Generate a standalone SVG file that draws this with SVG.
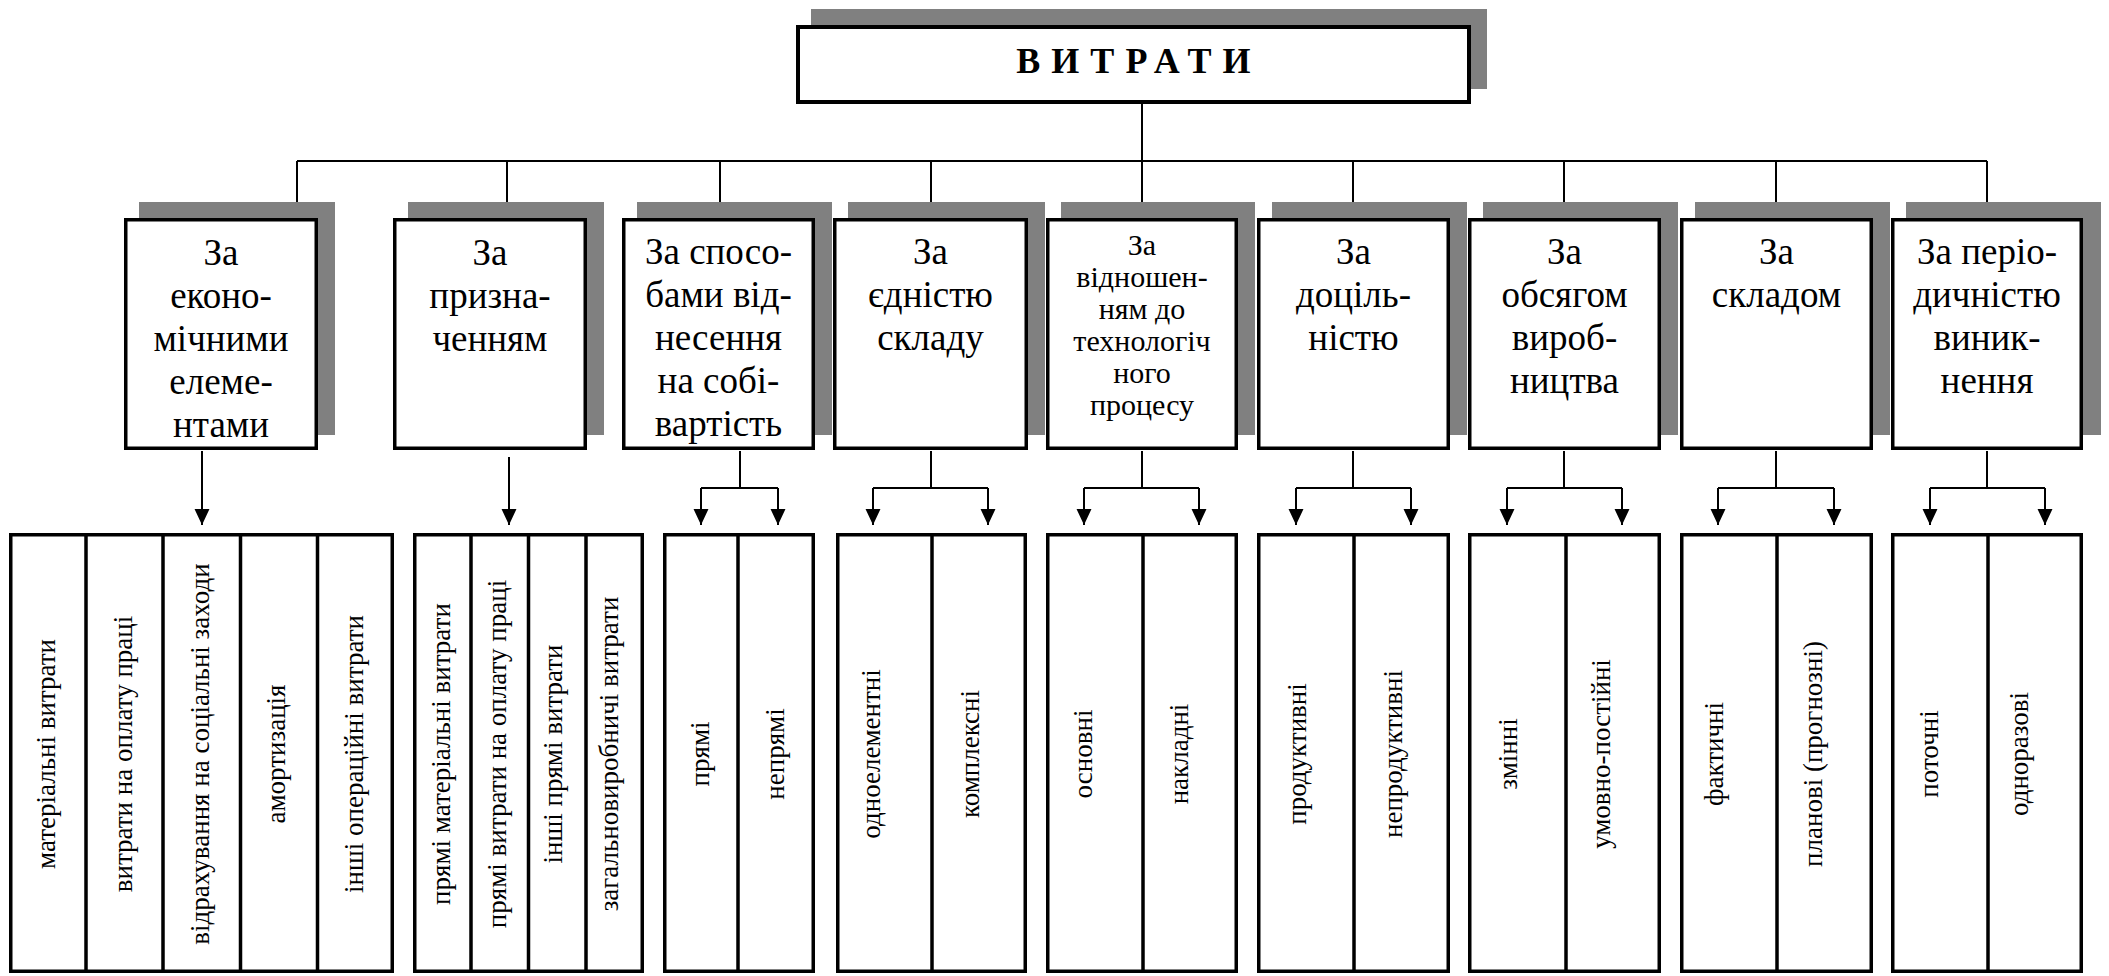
<svg xmlns="http://www.w3.org/2000/svg" width="2109" height="976" viewBox="0 0 2109 976">
<style>
.sh{fill:#808080;stroke:none}
.bx{fill:#fff;stroke:#000;stroke-width:3.5}
.tb{fill:#fff;stroke:#000;stroke-width:4}
.dv{stroke:#000;stroke-width:3.5}
.cn{fill:none;stroke:#000;stroke-width:2}
text{font-family:'Liberation Serif','Times New Roman',serif;fill:#000;text-anchor:middle}
.t2{font-size:37px}
.t2s{font-size:30px}
.t3{font-size:27px}
.tt{font-size:36px;font-weight:bold;letter-spacing:11px}
</style>
<defs>
<marker id="ar" markerUnits="userSpaceOnUse" markerWidth="16" markerHeight="16" viewBox="0 0 15 14" refX="15" refY="7" orient="auto">
<path d="M0,0 L15,7 L0,14 z" fill="#000"/>
</marker>
</defs>
<rect width="2109" height="976" fill="#fff"/>

<g id="connectors">
<path class="cn" d="M1142,104 V161 M297,161 H1987"/>
<path class="cn" marker-end="url(#ar)" d="M297,161 V218"/>
<path class="cn" marker-end="url(#ar)" d="M507,161 V218"/>
<path class="cn" marker-end="url(#ar)" d="M720,161 V218"/>
<path class="cn" marker-end="url(#ar)" d="M931,161 V218"/>
<path class="cn" marker-end="url(#ar)" d="M1142,161 V218"/>
<path class="cn" marker-end="url(#ar)" d="M1353,161 V218"/>
<path class="cn" marker-end="url(#ar)" d="M1564,161 V218"/>
<path class="cn" marker-end="url(#ar)" d="M1776,161 V218"/>
<path class="cn" marker-end="url(#ar)" d="M1987,161 V218"/>
<path class="cn" marker-end="url(#ar)" d="M202,451 V525"/>
<path class="cn" marker-end="url(#ar)" d="M509,457 V525"/>
<path class="cn" d="M740,451 V488 M701,488 H778 M931,451 V488 M873,488 H988 M1142,451 V488 M1084,488 H1199 M1353,451 V488 M1296,488 H1411 M1564,451 V488 M1507,488 H1622 M1776,451 V488 M1718,488 H1834 M1987,451 V488 M1930,488 H2045"/>
<path class="cn" marker-end="url(#ar)" d="M701,488 V525"/>
<path class="cn" marker-end="url(#ar)" d="M778,488 V525"/>
<path class="cn" marker-end="url(#ar)" d="M873,488 V525"/>
<path class="cn" marker-end="url(#ar)" d="M988,488 V525"/>
<path class="cn" marker-end="url(#ar)" d="M1084,488 V525"/>
<path class="cn" marker-end="url(#ar)" d="M1199,488 V525"/>
<path class="cn" marker-end="url(#ar)" d="M1296,488 V525"/>
<path class="cn" marker-end="url(#ar)" d="M1411,488 V525"/>
<path class="cn" marker-end="url(#ar)" d="M1507,488 V525"/>
<path class="cn" marker-end="url(#ar)" d="M1622,488 V525"/>
<path class="cn" marker-end="url(#ar)" d="M1718,488 V525"/>
<path class="cn" marker-end="url(#ar)" d="M1834,488 V525"/>
<path class="cn" marker-end="url(#ar)" d="M1930,488 V525"/>
<path class="cn" marker-end="url(#ar)" d="M2045,488 V525"/>
</g>

<g id="root">
<rect class="sh" x="811" y="9" width="676" height="80"/>
<rect class="tb" x="798" y="27" width="671" height="75"/>
<text class="tt" x="1139" y="73">ВИТРАТИ</text>
</g>

<g id="n1">
<rect class="sh" x="139" y="202" width="196" height="233"/>
<rect class="bx" x="125.75" y="219.75" width="190.5" height="228.5"/>
<text class="t2"><tspan x="221" y="265">За</tspan><tspan x="221" y="308">еконо-</tspan><tspan x="221" y="351">мічними</tspan><tspan x="221" y="394">елеме-</tspan><tspan x="221" y="437">нтами</tspan></text>
</g>
<g id="n2">
<rect class="sh" x="408" y="202" width="196" height="233"/>
<rect class="bx" x="394.75" y="219.75" width="190.5" height="228.5"/>
<text class="t2"><tspan x="490" y="265">За</tspan><tspan x="490" y="308">призна-</tspan><tspan x="490" y="351">ченням</tspan></text>
</g>
<g id="n3">
<rect class="sh" x="637" y="202" width="195" height="233"/>
<rect class="bx" x="623.75" y="219.75" width="189.5" height="228.5"/>
<text class="t2"><tspan x="718.5" y="264">За спосо-</tspan><tspan x="718.5" y="307">бами від-</tspan><tspan x="718.5" y="350">несення</tspan><tspan x="718.5" y="393">на собі-</tspan><tspan x="718.5" y="436">вартість</tspan></text>
</g>
<g id="n4">
<rect class="sh" x="848" y="202" width="197" height="233"/>
<rect class="bx" x="834.75" y="219.75" width="191.5" height="228.5"/>
<text class="t2"><tspan x="930.5" y="264">За</tspan><tspan x="930.5" y="307">єдністю</tspan><tspan x="930.5" y="350">складу</tspan></text>
</g>
<g id="n5">
<rect class="sh" x="1061" y="202" width="194" height="233"/>
<rect class="bx" x="1047.75" y="219.75" width="188.5" height="228.5"/>
<text class="t2s"><tspan x="1142" y="255">За</tspan><tspan x="1142" y="287">відношен-</tspan><tspan x="1142" y="319">ням до</tspan><tspan x="1142" y="351">технологіч</tspan><tspan x="1142" y="383">ного</tspan><tspan x="1142" y="415">процесу</tspan></text>
</g>
<g id="n6">
<rect class="sh" x="1272" y="202" width="195" height="233"/>
<rect class="bx" x="1258.75" y="219.75" width="189.5" height="228.5"/>
<text class="t2"><tspan x="1353.5" y="264">За</tspan><tspan x="1353.5" y="307">доціль-</tspan><tspan x="1353.5" y="350">ністю</tspan></text>
</g>
<g id="n7">
<rect class="sh" x="1483" y="202" width="195" height="233"/>
<rect class="bx" x="1469.75" y="219.75" width="189.5" height="228.5"/>
<text class="t2"><tspan x="1564.5" y="264">За</tspan><tspan x="1564.5" y="307">обсягом</tspan><tspan x="1564.5" y="350">вироб-</tspan><tspan x="1564.5" y="393">ництва</tspan></text>
</g>
<g id="n8">
<rect class="sh" x="1695" y="202" width="195" height="233"/>
<rect class="bx" x="1681.75" y="219.75" width="189.5" height="228.5"/>
<text class="t2"><tspan x="1776.5" y="264">За</tspan><tspan x="1776.5" y="307">складом</tspan></text>
</g>
<g id="n9">
<rect class="sh" x="1906" y="202" width="195" height="233"/>
<rect class="bx" x="1892.75" y="219.75" width="188.5" height="228.5"/>
<text class="t2"><tspan x="1987" y="264">За періо-</tspan><tspan x="1987" y="307">дичністю</tspan><tspan x="1987" y="350">виник-</tspan><tspan x="1987" y="393">нення</tspan></text>
</g>

<g id="g1">
<rect class="bx" x="10.75" y="534.75" width="381.5" height="436.5"/>
<path class="dv" d="M86,535 V971 M163,535 V971 M240.5,535 V971 M317.5,535 V971"/>
<text class="t3" transform="translate(55,754) rotate(-90)">матеріальні витрати</text>
<text class="t3" transform="translate(132,754) rotate(-90)">витрати на оплату праці</text>
<text class="t3" transform="translate(209,754) rotate(-90)">відрахування на соціальні заходи</text>
<text class="t3" transform="translate(285,754) rotate(-90)">амортизація</text>
<text class="t3" transform="translate(363,754) rotate(-90)">інші операційні витрати</text>
</g>
<g id="g2">
<rect class="bx" x="414.75" y="534.75" width="227.5" height="436.5"/>
<path class="dv" d="M471,535 V971 M528.5,535 V971 M586,535 V971"/>
<text class="t3" transform="translate(450,754) rotate(-90)">прямі матеріальні витрати</text>
<text class="t3" transform="translate(506,754) rotate(-90)">прямі витрати на оплату праці</text>
<text class="t3" transform="translate(562,754) rotate(-90)">інші прямі витрати</text>
<text class="t3" transform="translate(618,754) rotate(-90)">загальновиробничі витрати</text>
</g>
<g id="g3">
<rect class="bx" x="664.75" y="534.75" width="148.5" height="436.5"/>
<path class="dv" d="M738,535 V971"/>
<text class="t3" transform="translate(708.5,754) rotate(-90)">прямі</text>
<text class="t3" transform="translate(784,754) rotate(-90)">непрямі</text>
</g>
<g id="g4">
<rect class="bx" x="837.75" y="534.75" width="187.5" height="436.5"/>
<path class="dv" d="M932,535 V971"/>
<text class="t3" transform="translate(880,754) rotate(-90)">одноелементні</text>
<text class="t3" transform="translate(979,754) rotate(-90)">комплексні</text>
</g>
<g id="g5">
<rect class="bx" x="1047.75" y="534.75" width="188.5" height="436.5"/>
<path class="dv" d="M1143,535 V971"/>
<text class="t3" transform="translate(1092,754) rotate(-90)">основні</text>
<text class="t3" transform="translate(1188,754) rotate(-90)">накладні</text>
</g>
<g id="g6">
<rect class="bx" x="1258.75" y="534.75" width="189.5" height="436.5"/>
<path class="dv" d="M1354,535 V971"/>
<text class="t3" transform="translate(1306,754) rotate(-90)">продуктивні</text>
<text class="t3" transform="translate(1401.5,754) rotate(-90)">непродуктивні</text>
</g>
<g id="g7">
<rect class="bx" x="1469.75" y="534.75" width="189.5" height="436.5"/>
<path class="dv" d="M1566,535 V971"/>
<text class="t3" transform="translate(1516.5,754) rotate(-90)">змінні</text>
<text class="t3" transform="translate(1610,754) rotate(-90)">умовно-постійні</text>
</g>
<g id="g8">
<rect class="bx" x="1681.75" y="534.75" width="189.5" height="436.5"/>
<path class="dv" d="M1777,535 V971"/>
<text class="t3" transform="translate(1723,754) rotate(-90)">фактичні</text>
<text class="t3" transform="translate(1822,754) rotate(-90)">планові (прогнозні)</text>
</g>
<g id="g9">
<rect class="bx" x="1892.75" y="534.75" width="188.5" height="436.5"/>
<path class="dv" d="M1988,535 V971"/>
<text class="t3" transform="translate(1938,754) rotate(-90)">поточні</text>
<text class="t3" transform="translate(2028,754) rotate(-90)">одноразові</text>
</g>
</svg>
